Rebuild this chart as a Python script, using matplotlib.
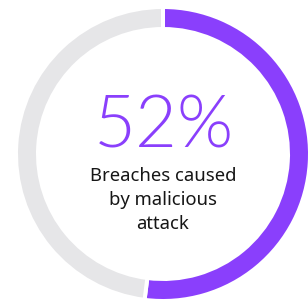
import matplotlib
matplotlib.use("Agg")
import matplotlib.pyplot as plt

labels = ["Malicious attack", "Other"]
values = [52, 48]
colors = ["#8a3ffc", "#e6e6e8"]
big_label = "52%"
caption = "Breaches caused\nby malicious\nattack"

W, H = 308, 304
fig = plt.figure(figsize=(W / 100, H / 100), dpi=100)
ax = fig.add_axes([0, 0, 1, 1])

gap_px = 4
lw = gap_px * 72 / 100
r_out = 145 + gap_px / 2
ring = 18 + gap_px
ax.pie(values, colors=colors, startangle=90, counterclock=False,
       center=(163, H - 154), radius=r_out, frame=True,
       wedgeprops=dict(width=ring, edgecolor="white", linewidth=lw))
ax.set_xlim(0, W)
ax.set_ylim(0, H)
ax.axis("off")

ax.text(164, H - 148, big_label, ha="center", va="baseline", fontsize=52,
        fontfamily="Lato", fontweight=300, color="#8a3ffc")
ax.text(163, H - 200, caption, ha="center", va="center", fontsize=13.3,
        fontfamily="Noto Sans", color="#161616", linespacing=1.4)

fig.savefig("out.png", dpi=100)
